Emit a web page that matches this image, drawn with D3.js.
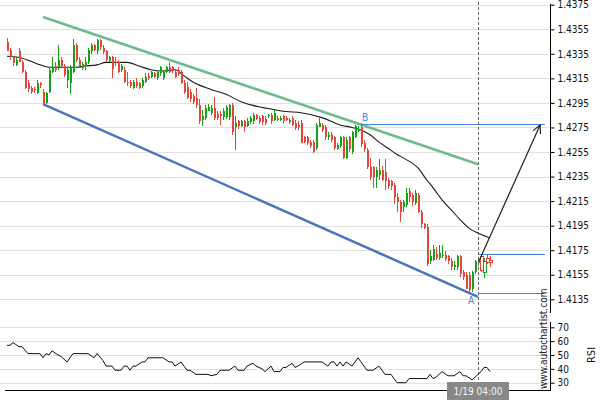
<!DOCTYPE html>
<html>
<head>
<meta charset="utf-8">
<script src="https://cdn.jsdelivr.net/npm/d3@7"></script>
<style>
  body { margin: 0; background: #fff; }
  svg { display: block; }
  text { font-family: "DejaVu Sans Condensed", "DejaVu Sans", sans-serif; }
</style>
</head>
<body>
<div id="chart"></div>
<script>
// ---- data ----
var opens = [1.4345,1.4338,1.4332,1.4326,1.4337,1.4328,1.4320,1.4311,1.4307,1.4306,
  1.4303,1.4311,1.4304,1.4295,1.4304,1.4320,1.4325,1.4324,1.4330,1.4325,
  1.4314,1.4311,1.4320,1.4342,1.4330,1.4324,1.4325,1.4328,1.4337,1.4342,
  1.4337,1.4346,1.4340,1.4337,1.4329,1.4332,1.4328,1.4328,1.4322,1.4322,
  1.4312,1.4312,1.4307,1.4312,1.4311,1.4309,1.4312,1.4317,1.4316,1.4319,
  1.4315,1.4319,1.4315,1.4320,1.4324,1.4324,1.4320,1.4322,1.4320,1.4311,
  1.4308,1.4304,1.4301,1.4299,1.4293,1.4281,1.4283,1.4289,1.4287,1.4291,
  1.4286,1.4286,1.4283,1.4284,1.4283,1.4293,1.4276,1.4280,1.4276,1.4280,
  1.4276,1.4280,1.4280,1.4285,1.4283,1.4284,1.4282,1.4284,1.4285,1.4281,
  1.4283,1.4281,1.4284,1.4283,1.4279,1.4283,1.4279,1.4277,1.4279,1.4267,
  1.4267,1.4263,1.4263,1.4258,1.4276,1.4277,1.4275,1.4267,1.4269,1.4267,
  1.4258,1.4260,1.4267,1.4250,1.4267,1.4255,1.4267,1.4272,1.4275,1.4262,
  1.4257,1.4243,1.4243,1.4234,1.4236,1.4240,1.4239,1.4232,1.4231,1.4228,
  1.4218,1.4214,1.4210,1.4212,1.4223,1.4220,1.4214,1.4220,1.4206,1.4196,
  1.4194,1.4166,1.4167,1.4172,1.4169,1.4170,1.4171,1.4170,1.4166,1.4161,
  1.4161,1.4170,1.4157,1.4155,1.4155,1.4143,1.4157,1.4164,1.4170,1.4157,
  1.4169,1.4167];
var highs = [1.4348,1.4340,1.4333,1.4332,1.4340,1.4330,1.4322,1.4314,1.4309,1.4308,
  1.4314,1.4312,1.4306,1.4304,1.4324,1.4332,1.4328,1.4342,1.4332,1.4327,
  1.4324,1.4326,1.4347,1.4344,1.4332,1.4328,1.4332,1.4340,1.4344,1.4343,
  1.4347,1.4347,1.4342,1.4338,1.4333,1.4333,1.4332,1.4330,1.4327,1.4324,
  1.4320,1.4314,1.4314,1.4315,1.4312,1.4315,1.4319,1.4319,1.4321,1.4320,
  1.4322,1.4325,1.4322,1.4325,1.4328,1.4325,1.4322,1.4324,1.4322,1.4314,
  1.4312,1.4306,1.4302,1.4307,1.4298,1.4289,1.4293,1.4294,1.4293,1.4300,
  1.4288,1.4288,1.4291,1.4293,1.4294,1.4295,1.4284,1.4281,1.4281,1.4281,
  1.4283,1.4284,1.4287,1.4286,1.4284,1.4285,1.4284,1.4286,1.4287,1.4289,
  1.4284,1.4284,1.4285,1.4284,1.4283,1.4284,1.4281,1.4280,1.4281,1.4268,
  1.4268,1.4265,1.4265,1.4279,1.4283,1.4279,1.4277,1.4271,1.4271,1.4268,
  1.4262,1.4268,1.4268,1.4267,1.4268,1.4272,1.4277,1.4276,1.4279,1.4265,
  1.4258,1.4250,1.4244,1.4243,1.4249,1.4244,1.4249,1.4234,1.4232,1.4230,
  1.4222,1.4216,1.4216,1.4226,1.4226,1.4222,1.4224,1.4222,1.4208,1.4197,
  1.4196,1.4175,1.4179,1.4178,1.4179,1.4179,1.4174,1.4171,1.4169,1.4166,
  1.4171,1.4171,1.4159,1.4157,1.4157,1.4158,1.4167,1.4167,1.4172,1.4169,
  1.4172,1.4170];
var lows = [1.4337,1.4330,1.4325,1.4325,1.4328,1.4319,1.4306,1.4304,1.4302,1.4303,
  1.4302,1.4307,1.4293,1.4294,1.4303,1.4319,1.4320,1.4322,1.4324,1.4316,
  1.4307,1.4302,1.4319,1.4328,1.4324,1.4322,1.4322,1.4327,1.4335,1.4337,
  1.4335,1.4338,1.4335,1.4328,1.4328,1.4315,1.4325,1.4319,1.4320,1.4311,
  1.4309,1.4307,1.4306,1.4307,1.4306,1.4307,1.4311,1.4314,1.4315,1.4315,
  1.4314,1.4317,1.4314,1.4319,1.4319,1.4319,1.4315,1.4317,1.4310,1.4302,
  1.4298,1.4296,1.4294,1.4291,1.4278,1.4276,1.4281,1.4288,1.4285,1.4281,
  1.4281,1.4277,1.4281,1.4282,1.4281,1.4269,1.4257,1.4274,1.4275,1.4271,
  1.4275,1.4278,1.4278,1.4281,1.4278,1.4277,1.4277,1.4283,1.4278,1.4280,
  1.4280,1.4280,1.4278,1.4280,1.4278,1.4276,1.4273,1.4273,1.4262,1.4262,
  1.4261,1.4258,1.4254,1.4257,1.4275,1.4271,1.4265,1.4265,1.4263,1.4257,
  1.4257,1.4258,1.4249,1.4249,1.4255,1.4253,1.4266,1.4271,1.4259,1.4255,
  1.4241,1.4232,1.4226,1.4226,1.4232,1.4231,1.4224,1.4225,1.4224,1.4213,
  1.4206,1.4198,1.4206,1.4210,1.4214,1.4211,1.4212,1.4205,1.4193,1.4192,
  1.4162,1.4164,1.4166,1.4167,1.4167,1.4169,1.4166,1.4164,1.4159,1.4159,
  1.4159,1.4153,1.4151,1.4143,1.4141,1.4141,1.4156,1.4162,1.4157,1.4152,
  1.4164,1.4161];
var closes = [1.4338,1.4332,1.4327,1.4330,1.4328,1.4320,1.4307,1.4306,1.4304,1.4305,
  1.4311,1.4309,1.4294,1.4303,1.4322,1.4324,1.4322,1.4330,1.4325,1.4318,
  1.4322,1.4324,1.4342,1.4330,1.4325,1.4327,1.4328,1.4338,1.4342,1.4338,
  1.4346,1.4340,1.4337,1.4330,1.4332,1.4322,1.4327,1.4320,1.4325,1.4312,
  1.4311,1.4309,1.4312,1.4309,1.4307,1.4314,1.4316,1.4315,1.4320,1.4316,
  1.4320,1.4324,1.4320,1.4324,1.4320,1.4321,1.4316,1.4319,1.4311,1.4304,
  1.4299,1.4298,1.4296,1.4293,1.4280,1.4284,1.4291,1.4292,1.4291,1.4283,
  1.4283,1.4284,1.4288,1.4292,1.4293,1.4271,1.4279,1.4276,1.4280,1.4275,
  1.4280,1.4283,1.4285,1.4282,1.4280,1.4279,1.4279,1.4285,1.4280,1.4287,
  1.4281,1.4283,1.4280,1.4281,1.4281,1.4277,1.4275,1.4275,1.4263,1.4263,
  1.4262,1.4260,1.4255,1.4277,1.4279,1.4273,1.4267,1.4269,1.4265,1.4258,
  1.4261,1.4267,1.4250,1.4265,1.4257,1.4271,1.4276,1.4274,1.4261,1.4257,
  1.4243,1.4235,1.4235,1.4240,1.4240,1.4232,1.4232,1.4227,1.4227,1.4218,
  1.4214,1.4206,1.4214,1.4222,1.4218,1.4214,1.4222,1.4206,1.4196,1.4193,
  1.4164,1.4170,1.4176,1.4169,1.4173,1.4171,1.4168,1.4166,1.4161,1.4163,
  1.4170,1.4155,1.4153,1.4144,1.4143,1.4157,1.4166,1.4166,1.4159,1.4166,
  1.4166,1.4165];

// moving average, sampled at candle indices
var maIdx = [0,4,8,11,14,18,23,26,30,33,40,44,48,52,56,59,62,68,73,78,82,88,93,98,105,111,115,118,121,124,127,130,133,137,140,142,145,148,151,154,157,161];
var maVal = [1.4333,1.4332,1.4329,1.4326,1.4324,1.4324,1.4324,1.4325,1.4326,1.4328,1.4328,1.4325,1.4322,1.4321,1.4322,1.4317,1.4312,1.4306,1.4302,1.4296,1.4293,1.4290,1.4288,1.4287,1.4283,1.4277,1.4275,1.4273,1.4269,1.4263,1.4258,1.4253,1.4249,1.4242,1.4232,1.4226,1.4216,1.4208,1.4200,1.4193,1.4189,1.4185];

// RSI, sampled at candle indices
var rsiIdx = [0,1,2,4,5,7,11,12,13,14,15,17,18,20,22,27,29,30,32,33,35,36,38,39,40,41,42,43,45,46,47,52,54,55,56,58,59,60,61,63,67,68,70,71,74,76,77,79,80,82,83,85,86,88,89,91,92,93,95,96,97,99,105,107,108,109,110,111,112,113,115,117,118,120,122,124,126,128,130,133,134,140,141,142,143,145,147,149,151,152,153,155,157,158,159,160,161];
var rsiVal = [57,57,59,56,56,51,51,48,51,50,53,50,49,45,51,51,48,51,46,42,42,39,39,42,42,39,42,42,45,45,48,48,45,45,42,45,42,39,39,36,36,35,36,39,39,42,39,39,42,44,42,40,38,42,38,38,41,41,44,41,42,45,45,42,45,45,42,45,42,45,42,48,45,39,39,42,36,36,30,30,33,33,36,33,34,38,35,35,38,35,35,32,36,38,41,41,38];

var priceTicks = [1.4135,1.4155,1.4175,1.4195,1.4215,1.4235,1.4255,1.4275,1.4295,1.4315,1.4335,1.4355,1.4375];
var rsiTicks = [30,40,50,60,70];

var markerIdx = 157;
var markerLabel = "1/19 04:00";

// pattern lines: [candle index, price]
var upperChannel = [[12, 1.4365], [157, 1.4245]];
var lowerChannel = [[12, 1.4294], [157, 1.4137]];
var levelB = [[118, 1.4278], [179.3, 1.4278]];
var levelMid = [[157, 1.4172], [179.3, 1.4172]];
var levelA = [[157, 1.4140], [179.3, 1.4140]];
var forecast = [[157.3, 1.4166], [177.7, 1.4277]];

// ---- layout ----
var W = 600, H = 400;
var axisX = 550;

var svg = d3.select("#chart").append("svg")
    .attr("width", W)
    .attr("height", H);

svg.append("rect").attr("width", W).attr("height", H).attr("fill", "#fff");

var x = d3.scaleLinear().domain([0, 161]).range([7, 490]);
var y = d3.scaleLinear().domain([1.4135, 1.4375]).range([299.3, 4.7]);
var yr = d3.scaleLinear().domain([30, 70]).range([382.7, 327.3]);

function crisp(v) { return Math.round(v) + 0.5; }

// grid
svg.append("g").selectAll("line").data(priceTicks).enter().append("line")
    .attr("x1", 0).attr("x2", axisX)
    .attr("y1", function(d) { return crisp(y(d)); })
    .attr("y2", function(d) { return crisp(y(d)); })
    .attr("stroke", "#e2e2e2");

svg.append("g").selectAll("line").data(rsiTicks).enter().append("line")
    .attr("x1", 0).attr("x2", axisX)
    .attr("y1", function(d) { return crisp(yr(d)); })
    .attr("y2", function(d) { return crisp(yr(d)); })
    .attr("stroke", "#e2e2e2");

// channel lines
var pline = d3.line()
    .x(function(d) { return x(d[0]); })
    .y(function(d) { return y(d[1]); });

svg.append("path").attr("d", pline(upperChannel))
    .attr("fill", "none").attr("stroke", "#6fb98e").attr("stroke-width", 2.5);
svg.append("path").attr("d", pline(lowerChannel))
    .attr("fill", "none").attr("stroke", "#4a74bd").attr("stroke-width", 2.5);

// moving average
var maData = maIdx.map(function(d, i) { return [d, maVal[i]]; });
svg.append("path")
    .attr("d", d3.line().x(function(d) { return x(d[0]); }).y(function(d) { return y(d[1]); }).curve(d3.curveMonotoneX)(maData))
    .attr("fill", "none").attr("stroke", "#1a1a1a").attr("stroke-width", 1.1);

// candles
var candles = closes.map(function(c, i) {
    return {i: i, o: opens[i], h: highs[i], l: lows[i], c: c};
});
var red = "#e5463b", green = "#13a313";

function cx(d) { return Math.round(x(d.i)); }

var cg = svg.append("g").selectAll("g").data(candles).enter().append("g");
cg.append("line")
    .attr("x1", function(d) { return cx(d) + 0.5; })
    .attr("x2", function(d) { return cx(d) + 0.5; })
    .attr("y1", function(d) { return Math.round(y(d.h)); })
    .attr("y2", function(d) { return Math.round(y(d.l)); })
    .attr("stroke", function(d) { return d.c >= d.o ? green : red; })
    .attr("stroke-width", 1);
cg.append("rect")
    .attr("x", function(d) { return d.i > markerIdx ? cx(d) - 0.5 : cx(d); })
    .attr("width", function(d) { return d.i > markerIdx ? 3 : 2; })
    .attr("y", function(d) { return Math.round(y(Math.max(d.o, d.c))) + (d.i > markerIdx ? 0.5 : 0); })
    .attr("height", function(d) { return Math.max(1, Math.round(Math.abs(y(d.o) - y(d.c)))); })
    .attr("fill", function(d) {
        if (d.i > markerIdx) return "#fff";
        return d.c >= d.o ? green : red;
    })
    .attr("stroke", function(d) {
        if (d.i > markerIdx) return d.c >= d.o ? green : red;
        return "none";
    })
    .attr("stroke-width", 1);

// levels
var blue = "#3d82e8";
[levelB, levelMid, levelA].forEach(function(lv) {
    svg.append("line")
        .attr("x1", x(lv[0][0])).attr("x2", x(lv[1][0]))
        .attr("y1", crisp(y(lv[0][1]))).attr("y2", crisp(y(lv[1][1])))
        .attr("stroke", blue).attr("stroke-width", 1);
});
svg.append("text").attr("x", x(levelB[0][0]) + 1).attr("y", y(levelB[0][1]) - 3)
    .attr("fill", blue).attr("font-size", "10px").text("B");
svg.append("text").attr("x", x(markerIdx) - 7).attr("y", y(levelA[0][1]) + 11)
    .attr("text-anchor", "middle")
    .attr("fill", blue).attr("font-size", "10px").text("A");

// marker line
svg.append("line")
    .attr("x1", crisp(x(markerIdx))).attr("x2", crisp(x(markerIdx)))
    .attr("y1", 2).attr("y2", 390)
    .attr("stroke", "#666").attr("stroke-dasharray", "3,2");

// forecast arrow
svg.append("defs").append("marker")
    .attr("id", "arr").attr("viewBox", "0 0 10 10")
    .attr("refX", 9).attr("refY", 5)
    .attr("markerWidth", 10).attr("markerHeight", 10)
    .attr("markerUnits", "userSpaceOnUse")
    .attr("orient", "auto")
    .append("path").attr("d", "M1,1 L9,5 L1,9")
    .attr("fill", "none").attr("stroke", "#222").attr("stroke-width", 1.2);

svg.append("path").attr("d", pline(forecast))
    .attr("fill", "none").attr("stroke", "#222").attr("stroke-width", 1.2)
    .attr("marker-end", "url(#arr)");

// RSI
var rsiData = rsiIdx.map(function(d, i) { return [d, rsiVal[i]]; });
svg.append("path")
    .attr("d", d3.line().x(function(d) { return x(d[0]); }).y(function(d) { return yr(d[1]); })(rsiData))
    .attr("fill", "none").attr("stroke", "#111").attr("stroke-width", 1);

// axes
var pAxis = svg.append("g").attr("transform", "translate(" + (axisX + 0.5) + ",0)")
    .call(d3.axisRight(y).tickValues(priceTicks).tickSize(4).tickPadding(3).tickFormat(d3.format(".4f")));
pAxis.select(".domain").remove();
pAxis.selectAll("text").attr("font-size", "10px").attr("fill", "#111")
    .style("font-family", "'DejaVu Sans Condensed','DejaVu Sans',sans-serif");

var rAxis = svg.append("g").attr("transform", "translate(" + (axisX + 0.5) + ",0)")
    .call(d3.axisRight(yr).tickValues(rsiTicks).tickSize(4).tickPadding(3));
rAxis.select(".domain").remove();
rAxis.selectAll("text").attr("font-size", "10px").attr("fill", "#111")
    .style("font-family", "'DejaVu Sans Condensed','DejaVu Sans',sans-serif");

svg.append("line").attr("x1", axisX + 0.5).attr("x2", axisX + 0.5)
    .attr("y1", 4).attr("y2", 313).attr("stroke", "#000");
svg.append("line").attr("x1", axisX + 0.5).attr("x2", axisX + 0.5)
    .attr("y1", 322).attr("y2", 391).attr("stroke", "#000");
svg.append("line").attr("x1", 5).attr("x2", axisX + 1)
    .attr("y1", 390.5).attr("y2", 390.5).attr("stroke", "#000");

svg.append("text")
    .attr("transform", "translate(595,355) rotate(-90)")
    .attr("text-anchor", "middle").attr("font-size", "11px").attr("fill", "#111")
    .text("RSI");

svg.append("text")
    .attr("transform", "translate(547,389) rotate(-90)")
    .attr("font-size", "10px").attr("fill", "#222")
    .text("www.autochartist.com");

// date badge
var bx = x(markerIdx);
svg.append("rect").attr("x", bx - 31).attr("y", 382).attr("width", 62).attr("height", 18)
    .attr("fill", "#888");
svg.append("text").attr("x", bx).attr("y", 395)
    .attr("text-anchor", "middle").attr("font-size", "10px").attr("fill", "#f4f4f4")
    .text(markerLabel);
</script>
</body>
</html>
